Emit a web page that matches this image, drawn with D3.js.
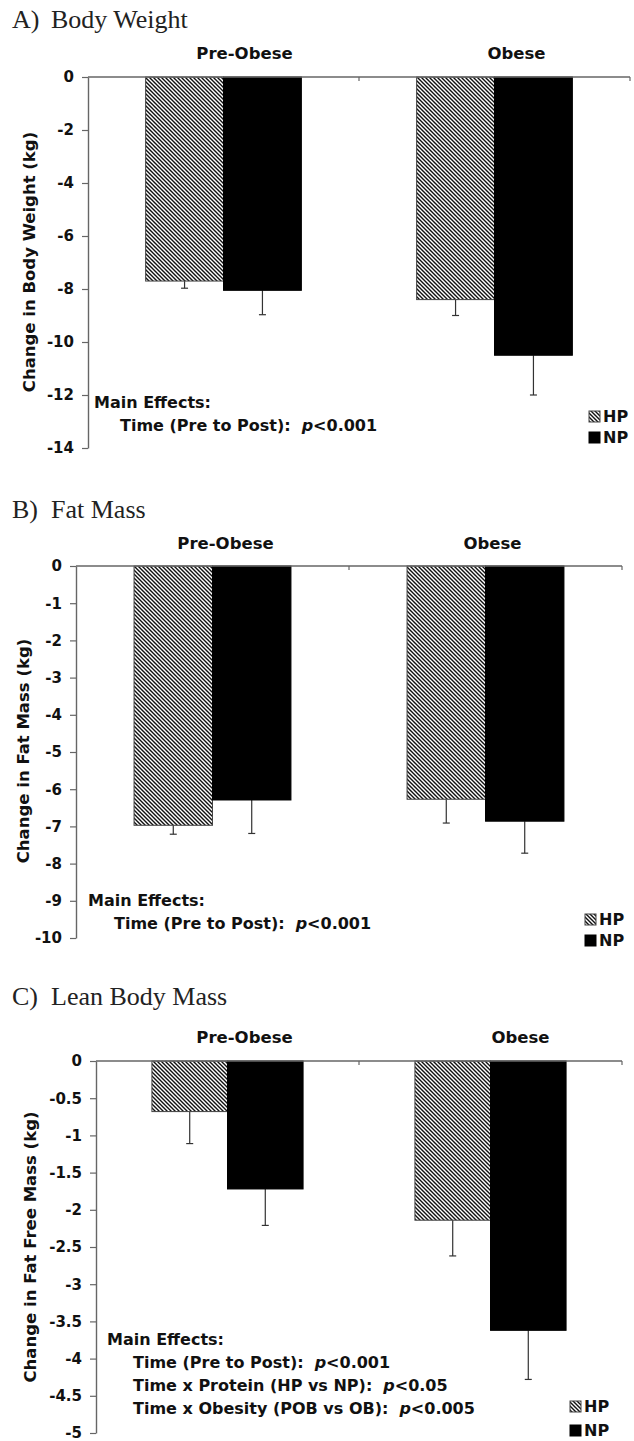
<!DOCTYPE html>
<html>
<head>
<meta charset="utf-8">
<script src="https://cdnjs.cloudflare.com/ajax/libs/d3/7.8.5/d3.min.js"></script>
<style>
  html, body { margin: 0; padding: 0; background: #fff; }
  svg { display: block; }
</style>
</head>
<body>
<script>
// ---------- data ----------
const categories = ["Pre-Obese", "Obese"];
const series = ["HP", "NP"];

const weightHP = [-7.7, -8.4];
const weightNP = [-8.05, -10.5];
const weightHPerr = [0.27, 0.6];
const weightNPerr = [0.92, 1.5];
const weightTicks = [0, -2, -4, -6, -8, -10, -12, -14];

const fatHP = [-6.97, -6.27];
const fatNP = [-6.29, -6.86];
const fatHPerr = [0.24, 0.64];
const fatNPerr = [0.9, 0.86];
const fatTicks = [0, -1, -2, -3, -4, -5, -6, -7, -8, -9, -10];

const leanHP = [-0.68, -2.14];
const leanNP = [-1.72, -3.62];
const leanHPerr = [0.43, 0.48];
const leanNPerr = [0.49, 0.66];
const leanTicks = [0, -0.5, -1, -1.5, -2, -2.5, -3, -3.5, -4, -4.5, -5];

const effectsA = [["Time (Pre to Post):", "<0.001"]];
const effectsB = [["Time (Pre to Post):", "<0.001"]];
const effectsC = [
  ["Time (Pre to Post):", "<0.001"],
  ["Time x Protein (HP vs NP):", "<0.05"],
  ["Time x Obesity (POB vs OB):", "<0.005"]
];

// ---------- layout ----------
const panels = [
  { letter: "A)", name: "Body Weight", titleY: 28,
    yTitle: "Change in Body Weight (kg)", yTitleX: 35, yTitleY: 262,
    hp: weightHP, np: weightNP, hpErr: weightHPerr, npErr: weightNPerr, ticks: weightTicks,
    axisX: 88, axisRight: 630, y0: 77, yMin: 448,
    headerY: 59, headerDx: [21, 22],
    effects: effectsA, effX: 94, effY: 408,
    legX: 589, legY: 411, legGap: 21 },
  { letter: "B)", name: "Fat Mass", titleY: 518,
    yTitle: "Change in Fat Mass (kg)", yTitleX: 29, yTitleY: 751,
    hp: fatHP, np: fatNP, hpErr: fatHPerr, npErr: fatNPerr, ticks: fatTicks,
    axisX: 76, axisRight: 622, y0: 566, yMin: 938,
    headerY: 549, headerDx: [13, 7],
    effects: effectsB, effX: 88, effY: 906,
    legX: 585, legY: 914, legGap: 21 },
  { letter: "C)", name: "Lean Body Mass", titleY: 1005,
    yTitle: "Change in Fat Free Mass (kg)", yTitleX: 36, yTitleY: 1247,
    hp: leanHP, np: leanNP, hpErr: leanHPerr, npErr: leanNPerr, ticks: leanTicks,
    axisX: 96, axisRight: 622, y0: 1061, yMin: 1433,
    headerY: 1043, headerDx: [17, 30],
    effects: effectsC, effX: 107, effY: 1345,
    legX: 570, legY: 1401, legGap: 24 }
];

const SANS = "'DejaVu Sans', sans-serif";
const SERIF = "'Liberation Serif', 'Times New Roman', serif";
const INK = "#111";
const AXIS = "#666";

const svg = d3.select("body").append("svg")
  .attr("width", 634).attr("height", 1441);

// hatch pattern (diagonal "\" lines)
const defs = svg.append("defs");
const pat = defs.append("pattern")
  .attr("id", "hatch").attr("patternUnits", "userSpaceOnUse")
  .attr("width", 4).attr("height", 4);
pat.append("rect").attr("width", 4).attr("height", 4).attr("fill", "#fff");
pat.append("path")
  .attr("d", "M-1,-1 L5,5 M-1,3 L1,5 M3,-1 L5,1")
  .attr("stroke", "#111").attr("stroke-width", 1.4);

panels.forEach(p => {
  const g = svg.append("g");

  // title
  const t = g.append("text").attr("y", p.titleY)
    .attr("font-family", SERIF).attr("font-size", 26).attr("fill", "#222");
  t.append("tspan").attr("x", 12).text(p.letter);
  t.append("tspan").attr("x", 51).text(p.name);

  const y = d3.scaleLinear()
    .domain([0, p.ticks[p.ticks.length - 1]])
    .range([p.y0, p.yMin]);
  const x = d3.scaleBand().domain(categories)
    .range([p.axisX, p.axisRight]).paddingInner(0).paddingOuter(0);
  const xs = d3.scaleBand().domain(series)
    .range([0, x.bandwidth()]).paddingInner(0).paddingOuter(0.74);

  // y axis
  const yAxis = d3.axisLeft(y).tickValues(p.ticks)
    .tickFormat(d => String(d)).tickSize(6).tickSizeOuter(0).tickPadding(8);
  const ya = g.append("g").attr("transform", `translate(${p.axisX},0)`).call(yAxis);
  ya.select(".domain").attr("stroke", AXIS).attr("stroke-width", 1.4);
  ya.selectAll(".tick line").attr("stroke", AXIS).attr("stroke-width", 1.2);
  ya.selectAll(".tick text").attr("font-family", SANS).attr("font-weight", "bold")
    .attr("font-size", 15).attr("fill", INK);

  // bars
  const rows = [];
  categories.forEach((c, i) => {
    rows.push({ c, s: "HP", v: p.hp[i], e: p.hpErr[i] });
    rows.push({ c, s: "NP", v: p.np[i], e: p.npErr[i] });
  });

  // error bars (downward)
  rows.forEach(r => {
    const cx = x(r.c) + xs(r.s) + xs.bandwidth() / 2;
    g.append("line").attr("x1", cx).attr("x2", cx)
      .attr("y1", y(r.v)).attr("y2", y(r.v - r.e))
      .attr("stroke", "#333").attr("stroke-width", 1.2);
    g.append("line").attr("x1", cx - 3.5).attr("x2", cx + 3.5)
      .attr("y1", y(r.v - r.e)).attr("y2", y(r.v - r.e))
      .attr("stroke", "#333").attr("stroke-width", 1.2);
  });

  g.selectAll("rect.bar").data(rows).join("rect").attr("class", "bar")
    .attr("x", d => x(d.c) + xs(d.s))
    .attr("width", xs.bandwidth())
    .attr("y", y(0))
    .attr("height", d => y(d.v) - y(0))
    .attr("fill", d => d.s === "HP" ? "url(#hatch)" : "#000")
    .attr("stroke", d => d.s === "HP" ? "#444" : "#000")
    .attr("stroke-width", 1);

  // top x axis line at zero, with small ticks at category boundaries
  g.append("line").attr("x1", p.axisX).attr("x2", p.axisRight)
    .attr("y1", y(0)).attr("y2", y(0))
    .attr("stroke", AXIS).attr("stroke-width", 1.4);
  categories.forEach(c => {
    const bx = x(c) + x.bandwidth();
    g.append("line").attr("x1", bx).attr("x2", bx)
      .attr("y1", y(0)).attr("y2", y(0) + 4)
      .attr("stroke", AXIS).attr("stroke-width", 1.2);
  });

  // category headers
  categories.forEach((c, i) => {
    g.append("text").attr("x", x(c) + x.bandwidth() / 2 + p.headerDx[i]).attr("y", p.headerY)
      .attr("text-anchor", "middle").attr("font-family", SANS).attr("font-weight", "bold")
      .attr("font-size", 16.5).attr("fill", INK).text(c);
  });

  // y title
  g.append("text")
    .attr("transform", `translate(${p.yTitleX},${p.yTitleY}) rotate(-90)`)
    .attr("text-anchor", "middle").attr("font-family", SANS).attr("font-weight", "bold")
    .attr("font-size", 16.5).attr("fill", INK).text(p.yTitle);

  // main effects
  g.append("text").attr("x", p.effX).attr("y", p.effY)
    .attr("font-family", SANS).attr("font-weight", "bold").attr("font-size", 16)
    .attr("fill", INK).text("Main Effects:");
  p.effects.forEach((e, i) => {
    const tt = g.append("text").attr("x", p.effX + 26).attr("y", p.effY + 23 * (i + 1))
      .attr("font-family", SANS).attr("font-weight", "bold").attr("font-size", 16)
      .attr("fill", INK);
    tt.append("tspan").text(e[0]);
    tt.append("tspan").attr("dx", 11).attr("font-style", "italic").text("p");
    tt.append("tspan").text(e[1]);
  });

  // legend
  series.forEach((s, i) => {
    const ly = p.legY + i * p.legGap;
    g.append("rect").attr("x", p.legX).attr("y", ly).attr("width", 11).attr("height", 11)
      .attr("fill", s === "HP" ? "url(#hatch)" : "#000")
      .attr("stroke", s === "HP" ? "#444" : "#000").attr("stroke-width", 1);
    g.append("text").attr("x", p.legX + 14).attr("y", ly + 11)
      .attr("font-family", SANS).attr("font-weight", "bold").attr("font-size", 16)
      .attr("fill", INK).text(s);
  });
});
</script>
</body>
</html>
